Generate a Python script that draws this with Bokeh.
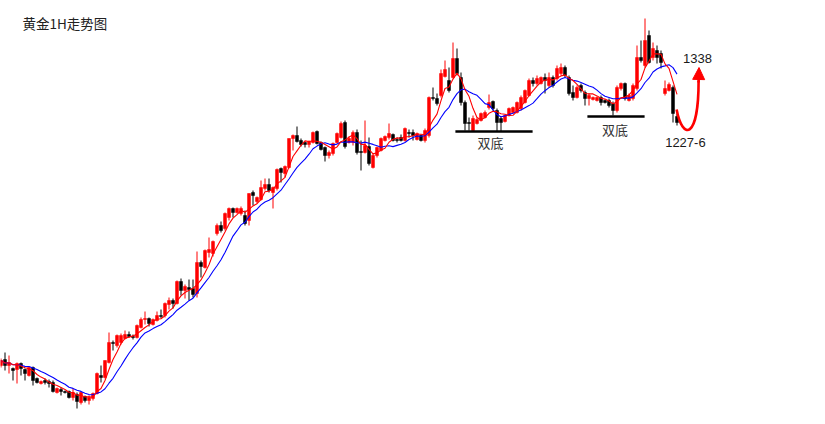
import numpy as np
import pandas as pd
from bokeh.plotting import figure
from bokeh.models import Range1d, Label, Arrow, NormalHead, ColumnDataSource
from bokeh.embed import file_html
from bokeh.resources import INLINE

# ---- data (hourly candles, chart units) ----
open_ = [59, 65, 59, 56, 55, 61, 55, 49, 57, 46,
         41, 44, 43, 42, 32, 35, 33, 33, 27, 30,
         22, 28, 24, 26, 31, 49, 47, 62, 82, 79,
         82, 86, 90, 88, 87, 97, 105, 106, 100, 104,
         109, 109, 120, 124, 121, 143, 134, 137, 136, 131,
         162, 157, 172, 171, 191, 199, 196, 207, 216, 212,
         211, 209, 204, 232, 223, 225, 236, 240, 232, 236,
         256, 251, 257, 286, 289, 284, 282, 280, 282, 293,
         282, 277, 269, 271, 282, 287, 302, 282, 282, 292,
         273, 272, 278, 257, 269, 274, 284, 287, 290, 285,
         287, 284, 292, 292, 285, 289, 284, 289, 327, 326,
         329, 348, 344, 347, 366, 347, 322, 302, 294, 301,
         304, 307, 317, 323, 314, 306, 303, 309, 312, 312,
         316, 322, 329, 344, 341, 341, 347, 339, 347, 346,
         351, 357, 347, 332, 327, 339, 332, 326, 325, 324,
         327, 324, 324, 321, 314, 336, 341, 324, 326, 336,
         367, 359, 389, 367, 374, 371, 331, 334, 337, 308]
close = [64, 59, 62, 54, 61, 56, 51, 57, 44, 42,
         43, 42, 41, 33, 36, 33, 32, 27, 32, 23,
         32, 24, 27, 31, 51, 47, 64, 82, 81, 89,
         89, 90, 88, 87, 99, 105, 106, 101, 105, 109,
         108, 121, 124, 121, 143, 134, 138, 135, 130, 162,
         158, 174, 175, 183, 199, 194, 211, 216, 212, 216,
         216, 201, 231, 229, 227, 237, 240, 234, 237, 255,
         252, 258, 286, 289, 283, 280, 280, 283, 292, 281,
         275, 269, 272, 281, 291, 301, 278, 286, 292, 272,
         272, 279, 261, 269, 277, 286, 288, 291, 284, 284,
         284, 296, 291, 289, 291, 284, 294, 327, 326, 321,
         351, 355, 334, 366, 351, 322, 301, 301, 306, 305,
         311, 312, 322, 316, 302, 302, 309, 316, 317, 322,
         327, 334, 344, 341, 346, 347, 344, 347, 339, 356,
         357, 349, 331, 327, 337, 334, 326, 329, 327, 327,
         322, 322, 319, 314, 337, 341, 326, 329, 339, 367,
         364, 384, 362, 376, 367, 362, 336, 340, 311, 302]
high = [66, 72, 69, 57, 62, 62, 56, 58, 58, 47,
        44, 46, 45, 44, 37, 37, 34, 34, 36, 32,
        33, 29, 29, 32, 52, 59, 64, 92, 84, 90,
        91, 94, 93, 90, 100, 107, 113, 107, 106, 113,
        115, 122, 127, 126, 144, 146, 140, 145, 145, 173,
        164, 175, 187, 184, 201, 203, 212, 217, 217, 217,
        218, 214, 231, 234, 228, 244, 246, 246, 238, 256,
        257, 259, 286, 290, 298, 286, 283, 284, 293, 294,
        283, 278, 274, 282, 292, 303, 304, 288, 294, 295,
        284, 304, 287, 271, 278, 287, 289, 301, 291, 287,
        290, 297, 295, 295, 292, 290, 296, 328, 337, 331,
        355, 364, 357, 382, 376, 352, 324, 307, 309, 307,
        312, 314, 330, 324, 316, 308, 310, 317, 318, 323,
        329, 335, 346, 347, 349, 348, 351, 352, 349, 359,
        361, 359, 349, 339, 339, 341, 334, 331, 328, 328,
        329, 325, 326, 323, 339, 342, 342, 331, 341, 379,
        384, 406, 394, 382, 379, 374, 344, 342, 339, 311]
low = [57, 54, 51, 44, 41, 49, 44, 48, 39, 41,
       40, 40, 37, 32, 31, 29, 31, 26, 24, 16,
       20, 22, 20, 24, 30, 42, 46, 61, 74, 77,
       80, 85, 87, 85, 86, 96, 100, 98, 99, 103,
       106, 107, 115, 116, 120, 129, 126, 124, 127, 127,
       147, 156, 167, 168, 189, 192, 194, 204, 207, 211,
       209, 199, 199, 219, 221, 224, 234, 232, 216, 234,
       242, 247, 256, 274, 282, 278, 277, 277, 281, 280,
       274, 263, 266, 269, 281, 286, 276, 281, 279, 270,
       254, 271, 259, 256, 267, 273, 283, 285, 283, 282,
       283, 283, 287, 284, 284, 283, 282, 287, 324, 319,
       327, 347, 332, 346, 349, 319, 294, 294, 293, 300,
       303, 306, 315, 314, 293, 293, 302, 308, 311, 311,
       314, 321, 328, 338, 339, 340, 331, 337, 337, 344,
       349, 347, 329, 324, 326, 332, 319, 319, 324, 323,
       319, 321, 317, 309, 312, 334, 324, 323, 324, 334,
       362, 357, 361, 364, 361, 356, 329, 333, 302, 299]

ma_fast_period = 5
ma_slow_period = 10

# annotations (chart units)
title_text = "黄金1H走势图"
pattern_label = "双底"
pattern_levels = [293, 308]
pattern_start = [113.6, 146.6]
pattern_end = [132.9, 160.9]
pattern_text_x = [122.4, 153.5]
pattern_text_y = [282, 295]
target_text = "1338"
support_text = "1227-6"

n = len(open_)
assert len(close) == n and len(high) == n and len(low) == n
x = np.arange(n)
o = np.array(open_, float)
c = np.array(close, float)
h = np.array(high, float)
l = np.array(low, float)
up = c >= o
colors = np.where(up, "#FF0000", "#000000")
top = np.maximum(o, c)
bot = np.minimum(o, c)
bot = np.where(top - bot < 1, top - 1, bot)

src = ColumnDataSource(dict(x=x, h=h, l=l, top=top, bot=bot, color=colors))

ma_fast = pd.Series(c).rolling(ma_fast_period, min_periods=1).mean().values
ma_slow = pd.Series(c).rolling(ma_slow_period, min_periods=1).mean().values

W, H = 825, 424
p = figure(width=W, height=H, output_backend="svg", toolbar_location=None,
           x_range=Range1d(-0.125, -0.125 + W / 4.0), y_range=Range1d(0, 424))
p.min_border = 0
p.min_border_left = p.min_border_right = p.min_border_top = p.min_border_bottom = 0
p.outline_line_color = None
p.xaxis.visible = False
p.yaxis.visible = False
p.xgrid.visible = False
p.ygrid.visible = False
p.background_fill_color = "white"
p.border_fill_color = "white"

p.segment(x0="x", y0="h", x1="x", y1="l", color="color", line_width=1, source=src)
p.vbar(x="x", top="top", bottom="bot", width=0.75, fill_color="color",
       line_color="color", line_width=0.5, source=src)

p.line(x, ma_slow, color="#0000FF", line_width=1.1)
p.line(x, ma_fast, color="#FF0000", line_width=1.1)

# double bottom necklines
p.segment(x0=pattern_start, y0=pattern_levels, x1=pattern_end, y1=pattern_levels,
          color="black", line_width=2.6)
for tx, ty in zip(pattern_text_x, pattern_text_y):
    p.add_layout(Label(x=tx, y=ty, text=pattern_label, text_font="Noto Sans CJK SC",
                       text_font_size="13px", text_color="#333333",
                       text_align="center", text_baseline="middle"))

p.add_layout(Label(x=174.1, y=366, text=target_text, text_font="Liberation Sans",
                   text_font_size="13px", text_color="#1a1a1a",
                   text_align="center", text_baseline="middle"))
p.add_layout(Label(x=171.1, y=282, text=support_text, text_font="Liberation Sans",
                   text_font_size="13px", text_color="#1a1a1a",
                   text_align="center", text_baseline="middle"))

# red forecast arrow
p.bezier(x0=[168.9], y0=[315], x1=[174.4], y1=[344],
         cx0=[170.4], cy0=[284], cx1=[174.4], cy1=[284],
         line_color="#FF0000", line_width=2.6)
p.add_layout(Arrow(end=NormalHead(size=12, fill_color="#FF0000", line_color="#FF0000"),
                   x_start=174.4, y_start=342, x_end=174.5, y_end=357,
                   line_color="#FF0000", line_width=2.6))

p.add_layout(Label(x=22, y=402, x_units="screen", y_units="screen", text=title_text,
                   text_font="Noto Sans CJK SC", text_font_size="13.5px",
                   text_color="#222222", text_baseline="middle"))

open("out.html", "w").write(file_html(p, INLINE))
